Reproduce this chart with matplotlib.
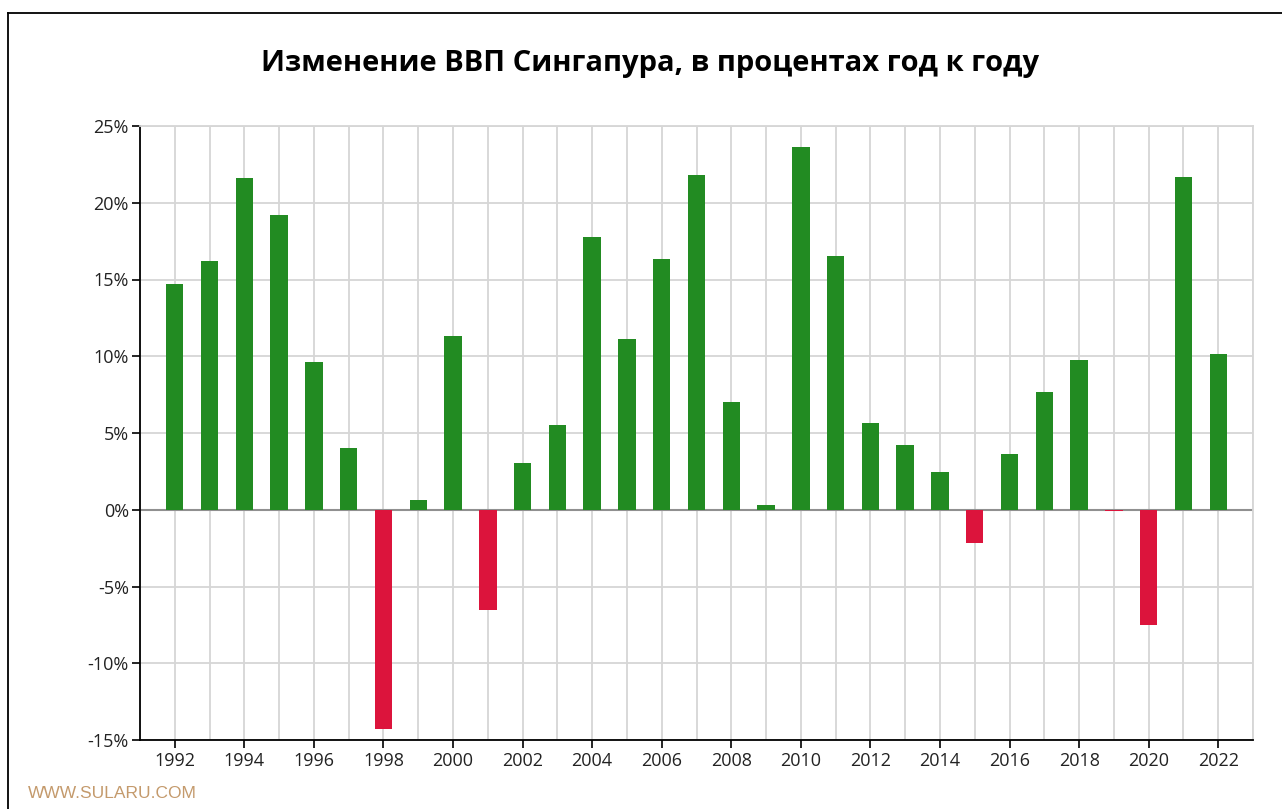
import matplotlib.pyplot as plt
from matplotlib.lines import Line2D
from matplotlib.ticker import FuncFormatter, MultipleLocator

years = list(range(1992, 2023))
growth = [14.7, 16.2, 21.6, 19.2, 9.6, 4.0, -14.3, 0.65, 11.3, -6.5,
          3.05, 5.5, 17.8, 11.1, 16.35, 21.8, 7.0, 0.33, 23.6, 16.5,
          5.65, 4.2, 2.45, -2.15, 3.6, 7.7, 9.75, -0.1, -7.5, 21.7, 10.15]

title = 'Изменение ВВП Сингапура, в процентах год к году'

plt.rcParams['font.family'] = ['Open Sans', 'DejaVu Sans']

fig = plt.figure(figsize=(12.82, 8.09), dpi=100)
ax = fig.add_axes([140 / 1282, 1 - 740 / 809, 1113 / 1282, 614 / 809])

colors = ['#228B22' if v >= 0 else '#DC143C' for v in growth]
ax.bar(years, growth, width=0.5, color=colors, zorder=3)

ax.set_xlim(1991, 2023)
ax.set_ylim(-15, 25)
ax.axhline(0, color='#909090', lw=1.5, zorder=2.5)

ax.yaxis.set_major_locator(MultipleLocator(5))
ax.yaxis.set_major_formatter(FuncFormatter(lambda v, p: '%d%%' % v))
ax.xaxis.set_minor_locator(MultipleLocator(1))
ax.set_xticks(range(1992, 2023, 2))

ax.grid(True, which='both', axis='x', color='#d6d6d6', lw=1.3, zorder=0)
ax.grid(True, which='major', axis='y', color='#d6d6d6', lw=1.3, zorder=0)
ax.tick_params(axis='x', which='minor', length=0)
ax.tick_params(axis='both', which='major', length=6, width=1.2,
               labelsize=13, colors='black', labelcolor='#222222')
ax.tick_params(axis='x', pad=3)
ax.tick_params(axis='y', pad=2)

for s in ['left', 'bottom']:
    ax.spines[s].set_color('black')
    ax.spines[s].set_linewidth(1.3)
for s in ['top', 'right']:
    ax.spines[s].set_color('#d6d6d6')
    ax.spines[s].set_linewidth(1.3)

fig.text(650 / 1282, 1 - 64 / 809, title, ha='center', va='center',
         fontsize=21, fontweight='bold', color='black')
fig.text(28 / 1282, 1 - 794 / 809, 'WWW.SULARU.COM', ha='left', va='center',
         fontsize=12.5, color='#c49a6c', family=['Liberation Sans', 'DejaVu Sans'])

fig.add_artist(Line2D([8 / 1282, 1], [1 - 13 / 809, 1 - 13 / 809], color='black', lw=1.3))
fig.add_artist(Line2D([8 / 1282, 8 / 1282], [0, 1 - 13 / 809], color='black', lw=1.3))

fig.savefig('out.png', dpi=100)
